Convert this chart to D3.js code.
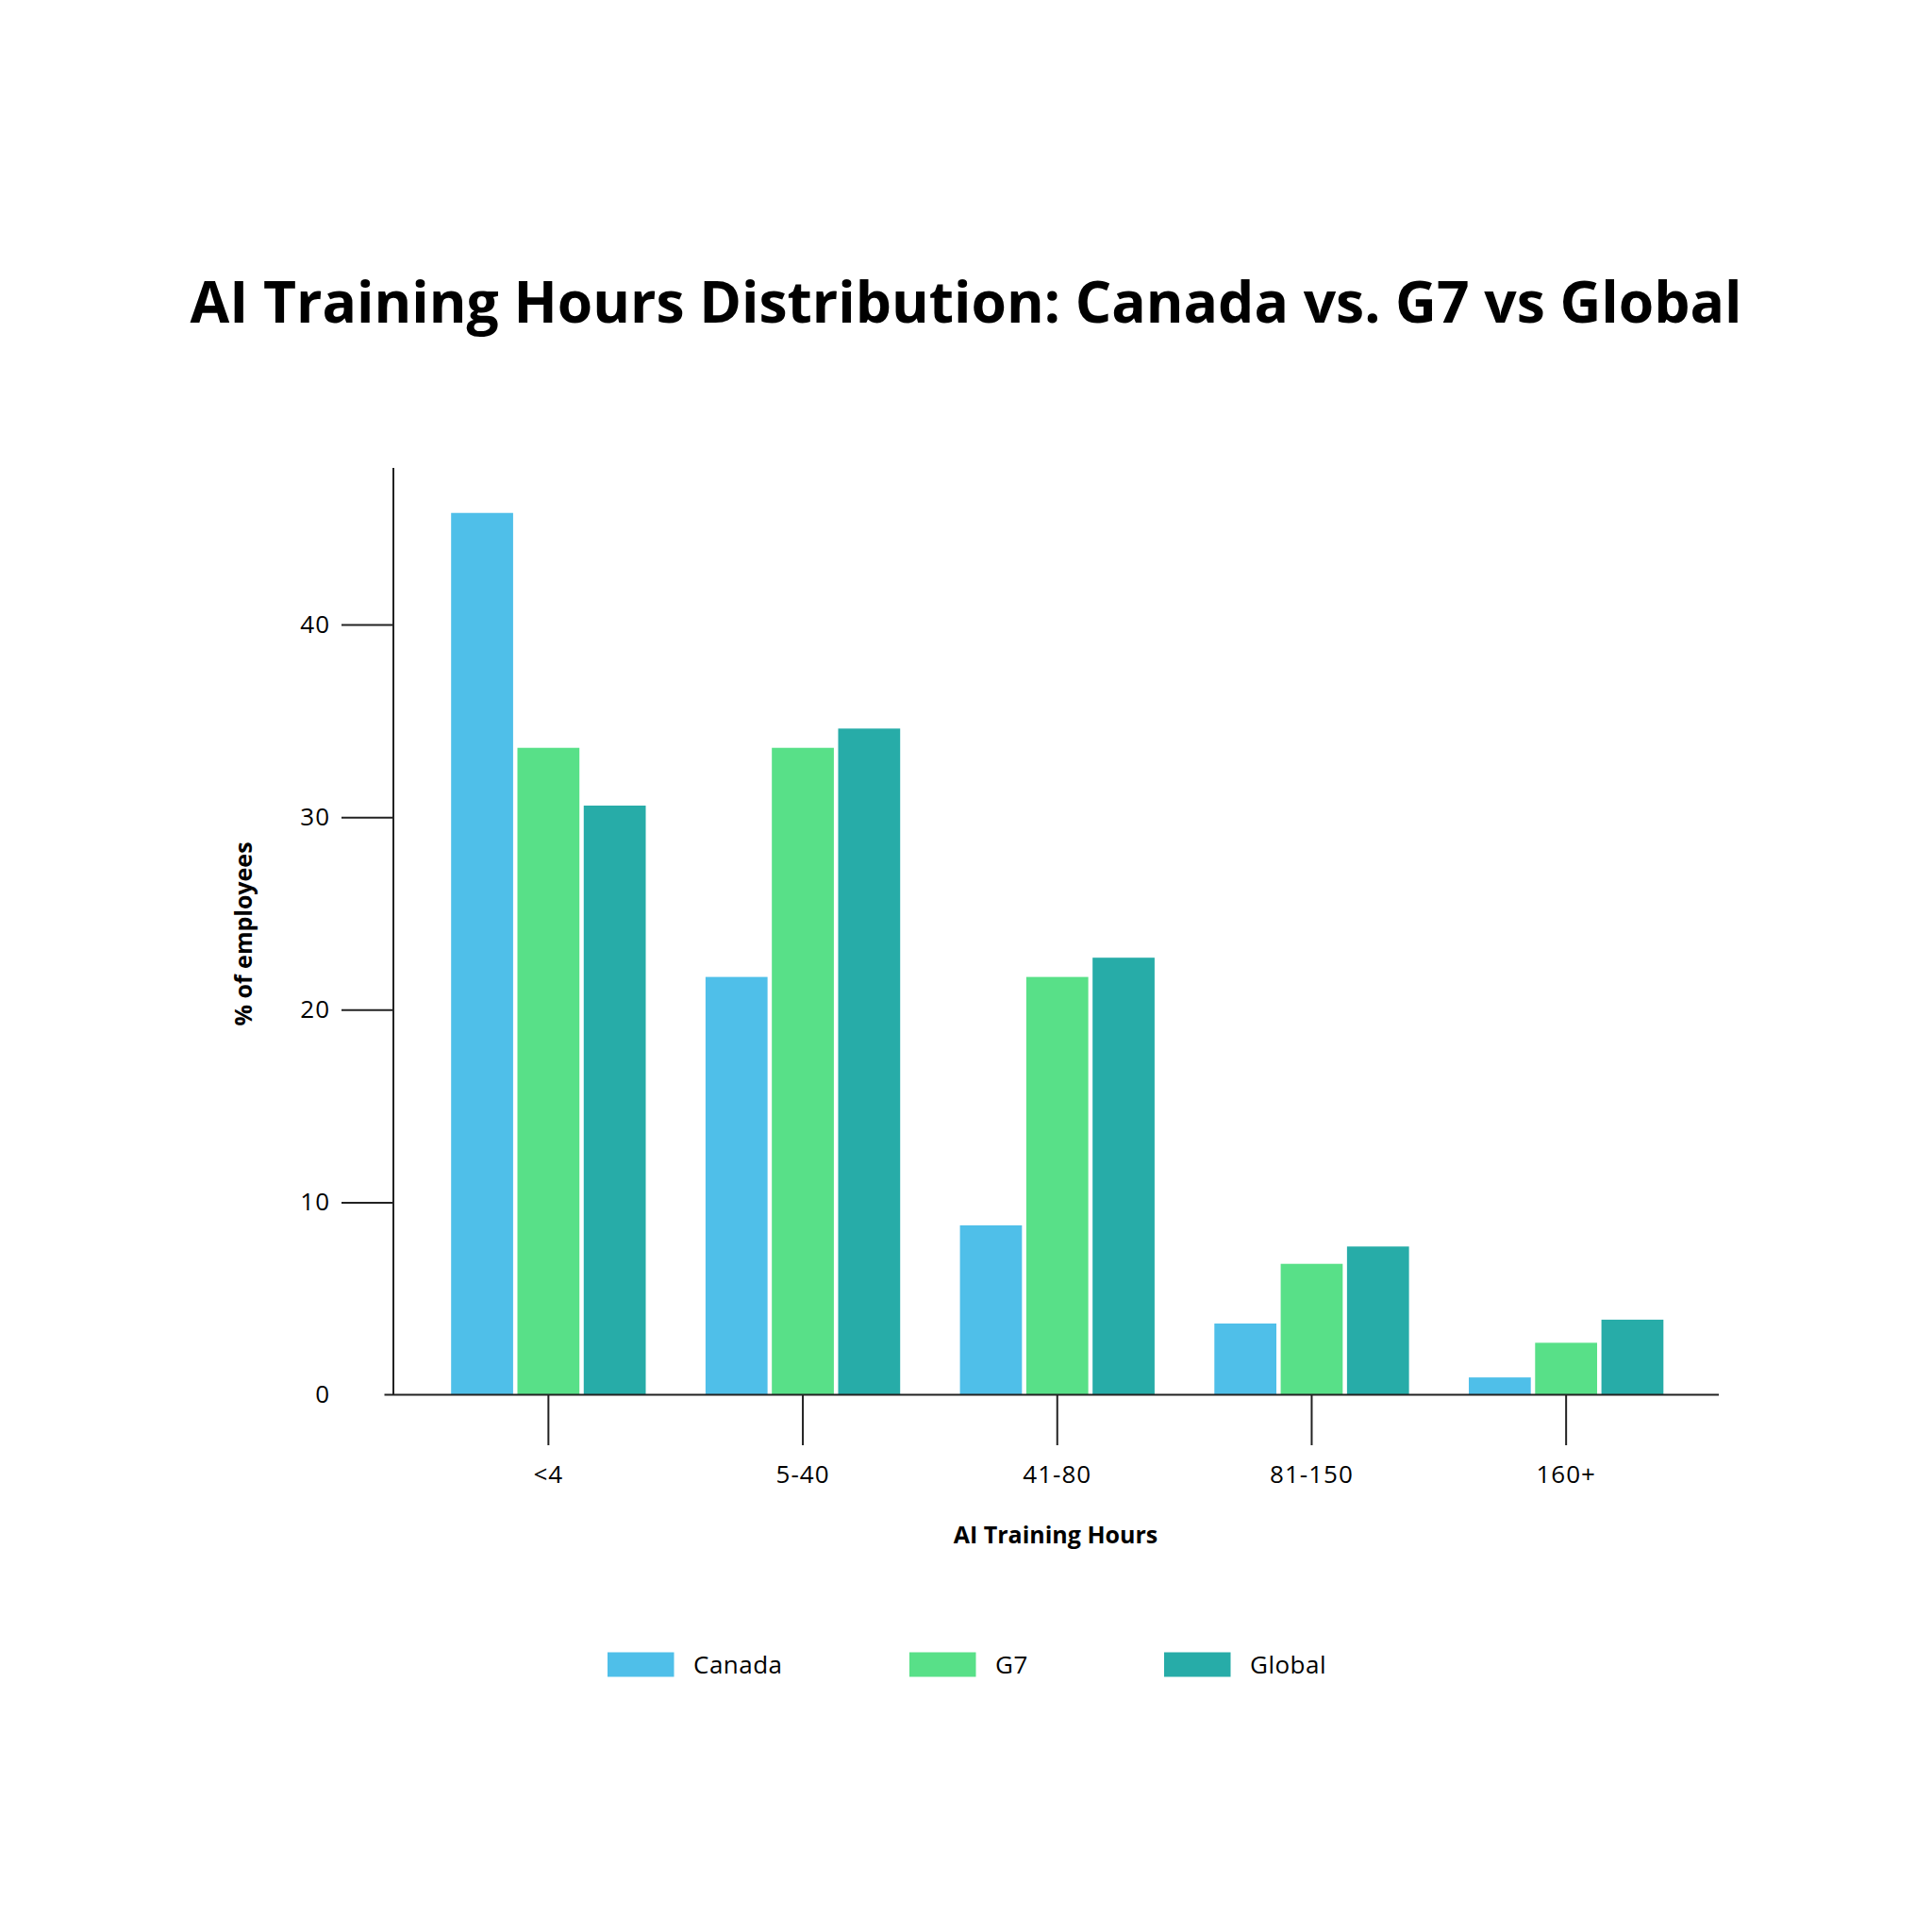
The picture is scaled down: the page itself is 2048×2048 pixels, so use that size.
<!DOCTYPE html>
<html>
<head>
<meta charset="utf-8">
<script src="https://cdn.jsdelivr.net/npm/d3@7"></script>
<style>
  body { margin: 0; background: #fff; }
  text { font-family: "Open Sans", "Noto Sans", sans-serif; fill: #000; }
</style>
</head>
<body>
<svg></svg>
<script>
// hour buckets and the three series (% of employees)
const categories = ['<4', '5-40', '41-80', '81-150', '160+']
const seriesNames = ['Canada', 'G7', 'Global']
const canada = [45.8, 21.7, 8.8, 3.7, 0.9]
const g7 = [33.6, 33.6, 21.7, 6.8, 2.7]
const global = [30.6, 34.6, 22.7, 7.7, 3.9]
const colors = ['#4fbfe9', '#58e088', '#27aca8']
const yTicks = [0, 10, 20, 30, 40]

const rows = categories.map((c, i) => ({
    cat: c,
    vals: [canada[i], g7[i], global[i]]
}))

const svg = d3.select('svg')
              .attr('width', 2048)
              .attr('height', 2048)

const plot = { left: 417, right: 1822, top: 496, bottom: 1478.5 }

// group scale: centers ~270px apart
const xscale = d3.scaleBand()
                 .domain(categories)
                 .range([446.5, 1795])
                 .paddingInner(0.235)
                 .paddingOuter(0.1175)
const xinner = d3.scaleBand()
                 .domain(seriesNames)
                 .range([0, xscale.bandwidth()])
                 .paddingInner(0.065)
const yscale = d3.scaleLinear()
                 .domain([0, 48])
                 .range([plot.bottom, plot.bottom - 48 * 20.41])

// title
svg.append('text')
   .attr('x', 1024).attr('y', 342)
   .attr('text-anchor', 'middle')
   .style('font-size', '60.5px')
   .style('font-weight', 700)
   .text('AI Training Hours Distribution: Canada vs. G7 vs Global')

// bars
const groups = svg.append('g').selectAll('g')
    .data(rows)
    .join('g')
    .attr('transform', d => `translate(${xscale(d.cat)},0)`)
groups.selectAll('rect')
      .data(d => d.vals.map((v, j) => ({ name: seriesNames[j], v: v, j: j })))
      .join('rect')
      .attr('x', d => xinner(d.name))
      .attr('width', xinner.bandwidth())
      .attr('y', d => yscale(d.v))
      .attr('height', d => yscale(0) - yscale(d.v))
      .attr('fill', d => colors[d.j])

// y axis
const yaxis = svg.append('g')
   .attr('transform', `translate(${plot.left},0)`)
   .call(d3.axisLeft(yscale).tickValues(yTicks).tickSize(55).tickPadding(12).tickSizeOuter(0))
yaxis.select('.domain').remove()
yaxis.selectAll('text')
     .style('font-size', '26px')
     .style('letter-spacing', '1px')
     .style('font-family', '"Open Sans", sans-serif')
yaxis.selectAll('line').attr('stroke', '#222').attr('stroke-width', 2)
// no tick mark at zero, only its label
yaxis.selectAll('.tick').filter(d => d === 0).select('line').remove()
svg.append('line')
   .attr('x1', plot.left).attr('x2', plot.left)
   .attr('y1', plot.top).attr('y2', plot.bottom)
   .attr('stroke', '#222').attr('stroke-width', 2)

// x axis
const xaxis = svg.append('g')
   .attr('transform', `translate(0,${plot.bottom})`)
   .call(d3.axisBottom(xscale).tickSize(53.5).tickPadding(22).tickSizeOuter(0))
xaxis.select('.domain').remove()
xaxis.selectAll('text')
     .style('font-size', '26px')
     .style('letter-spacing', '1px')
     .style('font-family', '"Open Sans", sans-serif')
xaxis.selectAll('line').attr('stroke', '#222').attr('stroke-width', 2)
svg.append('line')
   .attr('x1', 407.5).attr('x2', plot.right)
   .attr('y1', plot.bottom).attr('y2', plot.bottom)
   .attr('stroke', '#222').attr('stroke-width', 2)

// axis titles
svg.append('text')
   .attr('x', 1119).attr('y', 1636)
   .attr('text-anchor', 'middle')
   .style('font-size', '25px').style('font-weight', 700)
   .text('AI Training Hours')
svg.append('text')
   .attr('transform', 'translate(267,990) rotate(-90)')
   .attr('text-anchor', 'middle')
   .style('font-size', '25px').style('font-weight', 700)
   .text('% of employees')

// legend
const legendX = [644, 964, 1234]
const legend = svg.append('g').selectAll('g')
    .data(seriesNames)
    .join('g')
    .attr('transform', (d, i) => `translate(${legendX[i]},1751.5)`)
legend.append('rect')
      .attr('width', 70.5).attr('height', 26)
      .attr('fill', (d, i) => colors[i])
legend.append('text')
      .attr('x', 91).attr('y', 22.5)
      .style('font-size', '26px')
      .style('letter-spacing', '0.5px')
      .text(d => d)
</script>
</body>
</html>
